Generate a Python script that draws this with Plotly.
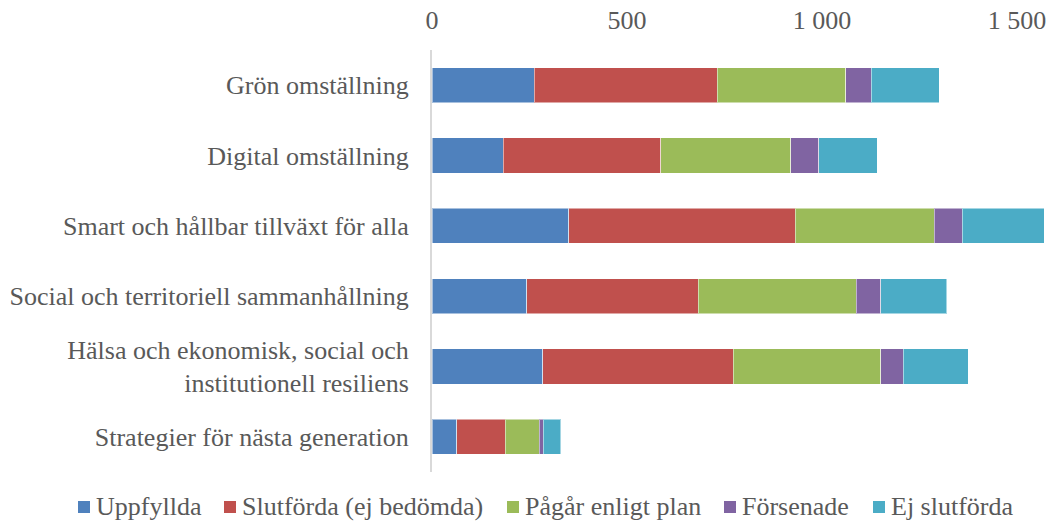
import plotly.graph_objects as go

categories = [
    "Grön omställning",
    "Digital omställning",
    "Smart och hållbar tillväxt för alla",
    "Social och territoriell sammanhållning",
    "Hälsa och ekonomisk, social och<br>institutionell resiliens",
    "Strategier för nästa generation",
]
uppfyllda = [262, 183, 350, 243, 284, 64]
slutforda = [470, 404, 581, 440, 489, 124]
pagar = [329, 333, 357, 405, 378, 87]
forsenade = [65, 72, 72, 62, 57, 10]
ej_slutforda = [174, 150, 210, 170, 167, 45]

series = [
    ("Uppfyllda", uppfyllda, "#4F81BD"),
    ("Slutförda (ej bedömda)", slutforda, "#C0504D"),
    ("Pågår enligt plan", pagar, "#9BBB59"),
    ("Försenade", forsenade, "#8064A2"),
    ("Ej slutförda", ej_slutforda, "#4BACC6"),
]

W, H = 1049, 521
L, R, T, B = 432, 0, 50, 49
pw, ph = W - L - R, H - T - B

fig = go.Figure()
for name, vals, color in series:
    fig.add_trace(go.Bar(
        y=categories, x=vals, name=name, orientation="h", showlegend=False,
        marker=dict(color=color, line=dict(color="rgba(255,255,255,0.5)", width=1)),
    ))

# legend drawn by hand (plotly's own legend wraps in this narrow plot area)
legend_px = [78, 224, 507, 724, 873]
leg_y = 507
sq = 12
for (name, _, color), lx in zip(series, legend_px):
    fig.add_shape(
        type="rect", xref="paper", yref="paper",
        x0=(lx - L) / pw, x1=(lx + sq - L) / pw,
        y0=(H - B - (leg_y + sq / 2)) / ph, y1=(H - B - (leg_y - sq / 2)) / ph,
        fillcolor=color, line=dict(width=0),
    )
    fig.add_annotation(
        text=name, xref="paper", yref="paper", showarrow=False,
        x=(lx + sq + 4 - L) / pw, y=(H - B - leg_y) / ph,
        xanchor="left", yanchor="middle", font=dict(size=26),
    )

fig.update_layout(
    barmode="stack",
    bargap=0.5,
    width=W, height=H,
    margin=dict(l=L, r=R, t=T, b=B),
    paper_bgcolor="white", plot_bgcolor="white",
    font=dict(family="Liberation Serif, Times New Roman, serif", size=26, color="#595959"),
    separators=", ",
    showlegend=False,
    xaxis=dict(
        side="top", range=[0, 1582], tickvals=[0, 500, 1000, 1500],
        tickformat=",d", showgrid=False, zeroline=False, automargin=False,
        ticklabelstandoff=15,
    ),
    yaxis=dict(
        autorange="reversed", showline=True, linecolor="#D9D9D9", linewidth=2,
        ticklabelstandoff=16, showgrid=False, automargin=False,
    ),
)

fig.write_html("out.html", config={"displayModeBar": False},
               post_script="document.body.style.margin='0';")
